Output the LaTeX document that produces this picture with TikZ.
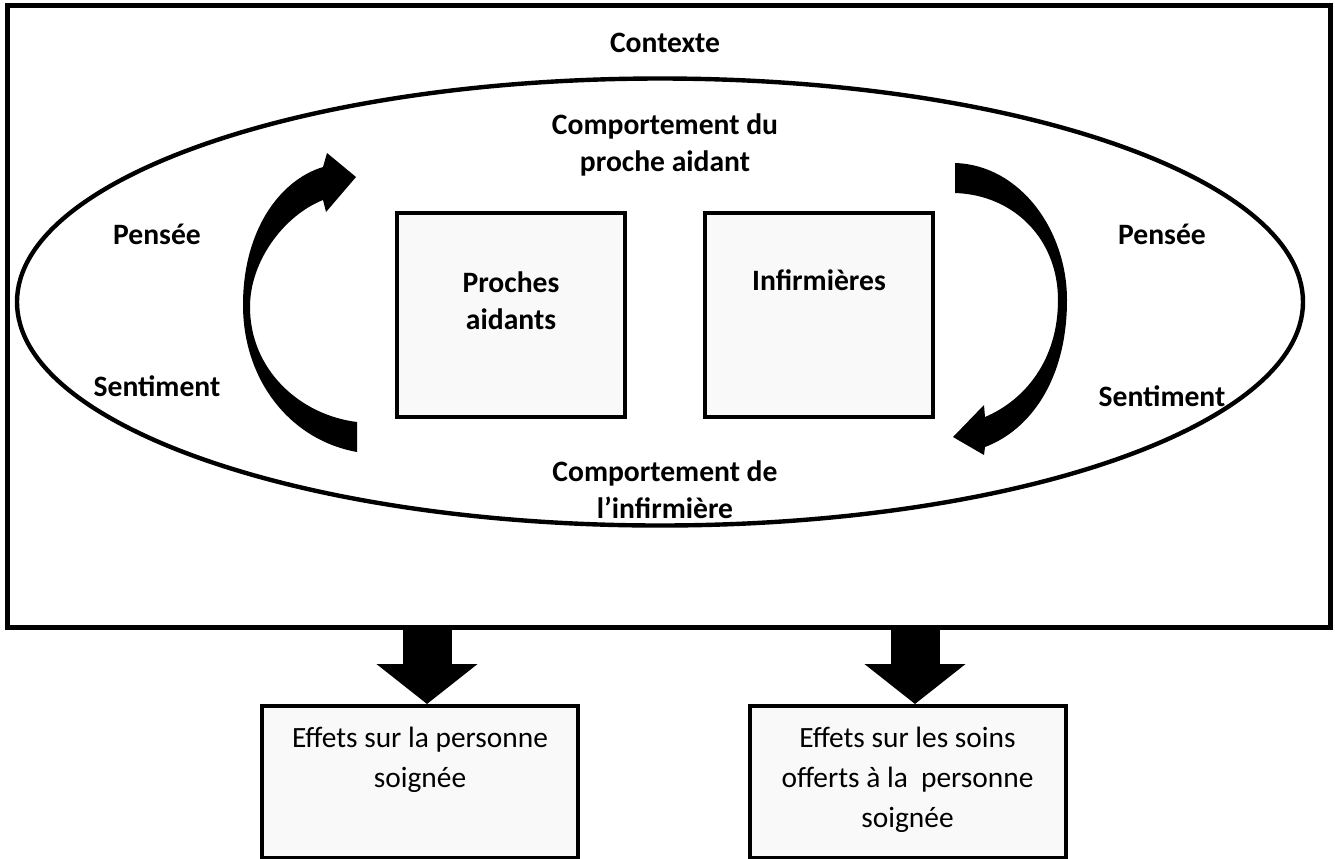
\documentclass[tikz,border=0pt]{standalone}
\usepackage{fontspec}
\setmainfont{Carlito}
\usetikzlibrary{positioning,arrows.meta,shapes.geometric}

\begin{document}
\begin{tikzpicture}[x=0.5pt, y=-0.5pt, align=center, font=\fontsize{14.7}{20}\selectfont]
    \tikzset{%
      carre/.style={fill=gray!5, draw, line width=2pt, minimum width=114pt, minimum height=102pt},
      effet/.style={carre, minimum width=158pt, minimum height=76pt, anchor=north},
      gras/.style={font=\fontsize{14.8}{18.5}\selectfont\bfseries},
      bloc/.style={line width=24.5pt, -{Triangle[length=20pt, width=49.5pt]}}
      }
     \useasboundingbox (0,0) rectangle (1335,858);

     \node [draw, line width=2.5pt, minimum width=661.5pt, minimum height=311pt] (Cadre) at (668.5,316) {};
     \node [gras] (Ctx) at (665,43) {Contexte};

     \node [ellipse, draw, line width=2.2pt, minimum width=643pt, minimum height=223.5pt] (Ell) at (660,302) {};
     \node [gras] (CompP) at (665,145) {Comportement du\\ proche aidant};
     \node [gras] (CompI) at (665,490) {Comportement de\\ l’infirmière};

     \node [gras] (PensG) at (157,234) {Pensée};
     \node [gras] (SentG) at (157,386) {Sentiment};
     \node [gras] (PensD) at (1162,234) {Pensée};
     \node [gras] (SentD) at (1162,396) {Sentiment};

     \node [carre] (PA) at (511,315) {};
     \node [carre] (Inf) at (819,315) {};
     \node [gras, below=27pt of PA.north] (tPA) {Proches\\ aidants};
     \node [gras, below=26pt of Inf.north] (tInf) {Infirmières};

     % fleches courbes
     \fill (357,452) .. controls (290,440) and (243,380) .. (243,305)
                     .. controls (243,230) and (280,180) .. (323,167)
                     -- (327,153) -- (356,177) -- (326,212) -- (323,200)
                     .. controls (285,215) and (250,260) .. (250,307)
                     .. controls (250,370) and (300,415) .. (357,422) -- cycle;
     \fill (955,163) .. controls (1020,165) and (1067,230) .. (1067,300)
                     .. controls (1067,380) and (1030,430) .. (985,447)
                     -- (984,455) -- (953,437) -- (984,405) -- (985,417)
                     .. controls (1025,400) and (1058,360) .. (1058,300)
                     .. controls (1058,240) and (1015,195) .. (955,193) -- cycle;

     \node [effet] (Eff1) at (420,704) {};
     \node [effet] (Eff2) at (907.5,704) {};
     \node [below=8pt of Eff1.north] (tEff1) {Effets sur la personne\\ soignée};
     \node [below=8pt of Eff2.north] (tEff2) {Effets sur les soins\\ offerts à la\ \ personne\\ soignée};

     \draw [bloc] (Cadre.south -| 427,0) -- (Eff1.north -| 427,0);
     \draw [bloc] (Cadre.south -| 915,0) -- (Eff2.north -| 915,0);

  \end{tikzpicture}
\end{document}
